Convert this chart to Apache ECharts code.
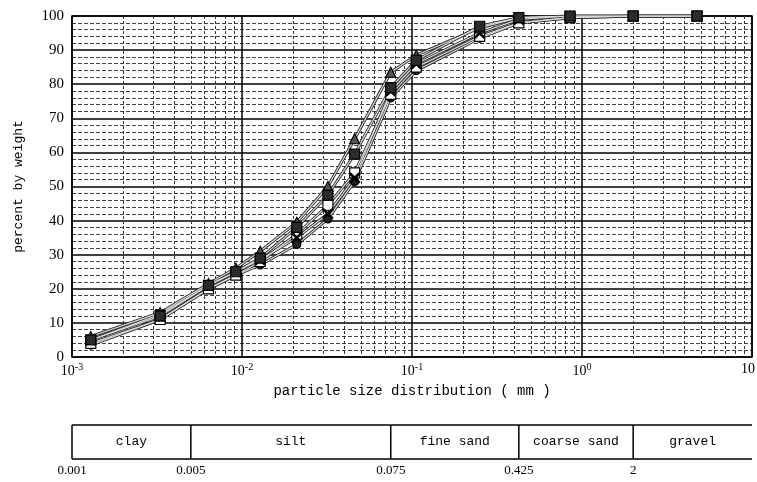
<!DOCTYPE html>
<html>
<head>
<meta charset="utf-8">
<script src="https://cdn.jsdelivr.net/npm/echarts@6/dist/echarts.min.js"></script>
<style>
  html, body { margin: 0; padding: 0; background: #fff; overflow: hidden; }
  #chart { width: 757px; height: 482px; }
</style>
</head>
<body>
<div id="chart"></div>
<script>
// Grain sizes (mm) at which each sample was measured
const sizes = [0.00129, 0.0033, 0.00635, 0.0092, 0.0128, 0.021, 0.032, 0.046, 0.075, 0.106, 0.25, 0.425, 0.85, 2, 4.75];

// Percent passing by weight for each sample
const sampleA = [5, 12, 21, 25, 29, 38, 47.5, 59.5, 79, 87, 97, 99.5, 100, 100, 100];
const sampleB = [6, 13, 21.5, 26, 31, 39.5, 50, 64, 83.5, 88.5, 96.5, 99.5, 100, 100, 100];
const sampleC = [4, 11, 20, 24, 28, 36, 44.5, 54, 77, 85, 94, 98, 99.5, 100, 100];
const sampleD = [3.5, 11, 20, 24, 27, 33, 40.5, 51.5, 76, 84, 93.5, 98, 99.5, 100, 100];
const sampleE = [5, 12.5, 21, 25, 28.5, 35, 42, 52.5, 78, 86, 95, 99, 100, 100, 100];

// Axis tick labels
const xTickValues = [0.001, 0.01, 0.1, 1, 10];
const xTickLabels = ['10{sup|-3}', '10{sup|-2}', '10{sup|-1}', '10{sup|0}', '{end|10}'];

// Soil classification bands
const zoneNames = ['clay', 'silt', 'fine sand', 'coarse sand', 'gravel'];
const zoneBounds = [0.001, 0.005, 0.075, 0.425, 2, 10];
const boundLabels = ['0.001', '0.005', '0.075', '0.425', '2'];

const monoFont = '"Liberation Mono", "DejaVu Sans Mono", monospace';
const serifFont = '"Liberation Serif", "DejaVu Serif", serif';

const crossPath = 'path://M0,1 L1,0 L5,4 L9,0 L10,1 L6,5 L10,9 L9,10 L5,6 L1,10 L0,9 L4,5 Z';

function pairs(vals) {
  return sizes.map((s, i) => [s, vals[i]]);
}

// Each curve is drawn as a dark casing with a light core, plus markers
function sampleSeries(vals, symbol, size, fill, border) {
  return [
    {
      type: 'line', xAxisIndex: 0, yAxisIndex: 0,
      data: pairs(vals), symbol: 'none',
      lineStyle: { color: '#333', width: 3 }, z: 3, silent: true
    },
    {
      type: 'line', xAxisIndex: 0, yAxisIndex: 0,
      data: pairs(vals), symbol: symbol, symbolSize: size, showAllSymbol: true,
      lineStyle: { color: '#d8d8d8', width: 1.2 },
      itemStyle: { color: fill, borderColor: border, borderWidth: 1.2 },
      z: 4
    }
  ];
}

const zoneData = zoneNames.map((n, i) => [zoneBounds[i], zoneBounds[i + 1], i]);
const boundData = boundLabels.map((t, i) => [zoneBounds[i], i]);

const chart = echarts.init(document.getElementById('chart'), null, { renderer: 'canvas' });

chart.setOption({
  animation: false,
  backgroundColor: '#fff',
  grid: [
    { left: 72, right: 5, top: 16, height: 341, show: true, borderColor: '#000', borderWidth: 1.5, containLabel: false, outerBoundsMode: 'none' },
    { left: 72, right: 5, top: 425, height: 34, show: false, containLabel: false, outerBoundsMode: 'none' }
  ],
  xAxis: [
    {
      type: 'log', logBase: 10, min: 0.001, max: 10, gridIndex: 0,
      name: 'particle size distribution ( mm )',
      nameLocation: 'middle', nameGap: 27,
      nameTextStyle: { fontFamily: monoFont, fontSize: 14, color: '#000' },
      axisLine: { show: false },
      axisTick: { show: false },
      axisLabel: {
        margin: 5,
        fontFamily: serifFont, fontSize: 14, color: '#000',
        formatter: function (v) {
          const idx = xTickValues.findIndex(t => Math.abs(Math.log10(t) - Math.log10(v)) < 1e-6);
          return idx >= 0 ? xTickLabels[idx] : '';
        },
        rich: {
          sup: { fontFamily: serifFont, fontSize: 10, verticalAlign: 'top', padding: [0, 0, 8, 0], color: '#000' },
          end: { fontFamily: serifFont, fontSize: 14, padding: [0, 8, 0, 0], color: '#000' }
        }
      },
      splitLine: { show: true, lineStyle: { color: '#000', width: 1.5 } },
      minorTick: { show: false, splitNumber: 9 },
      minorSplitLine: { show: true, lineStyle: { color: '#333', width: 1, type: [3, 2] } }
    },
    {
      type: 'log', logBase: 10, min: 0.001, max: 10, gridIndex: 1,
      show: false
    }
  ],
  yAxis: [
    {
      type: 'value', min: 0, max: 100, interval: 10, gridIndex: 0,
      name: 'percent by weight',
      nameLocation: 'middle', nameGap: 47, nameRotate: 90,
      nameTextStyle: { fontFamily: monoFont, fontSize: 13, color: '#000' },
      axisLine: { show: false },
      axisTick: { show: false },
      axisLabel: { margin: 8, fontFamily: serifFont, fontSize: 15, color: '#000' },
      splitLine: { show: true, lineStyle: { color: '#000', width: 1.5 } },
      minorTick: { show: false, splitNumber: 5 },
      minorSplitLine: { show: true, lineStyle: { color: '#444', width: 1, type: [4, 2] } }
    },
    { type: 'value', min: 0, max: 1, gridIndex: 1, show: false }
  ],
  series: [].concat(
    sampleSeries(sampleD, 'circle', 8, '#222', '#000'),
    sampleSeries(sampleC, 'rect', 10, '#fff', '#000'),
    sampleSeries(sampleE, crossPath, 10, '#000', '#000'),
    sampleSeries(sampleB, 'triangle', 10, '#555', '#000'),
    sampleSeries(sampleA, 'rect', 10, '#2b2b2b', '#000'),
    [
      {
        // classification table
        type: 'custom',
        xAxisIndex: 1, yAxisIndex: 1,
        data: zoneData,
        renderItem: function (params, api) {
          const p0 = api.coord([api.value(0), 1]);
          const p1 = api.coord([api.value(1), 0]);
          const i = api.value(2);
          return {
            type: 'group',
            children: [
              { type: 'line', shape: { x1: p0[0], y1: p0[1], x2: p1[0], y2: p0[1] }, style: { stroke: '#000', lineWidth: 1.5 } },
              { type: 'line', shape: { x1: p0[0], y1: p1[1], x2: p1[0], y2: p1[1] }, style: { stroke: '#000', lineWidth: 1.5 } },
              { type: 'line', shape: { x1: p0[0], y1: p0[1], x2: p0[0], y2: p1[1] }, style: { stroke: '#000', lineWidth: 1.5 } },
              {
                type: 'text',
                style: {
                  x: (p0[0] + p1[0]) / 2, y: (p0[1] + p1[1]) / 2,
                  text: zoneNames[i], align: 'center', verticalAlign: 'middle',
                  font: '13px ' + monoFont, fill: '#000'
                }
              }
            ]
          };
        },
        silent: true
      },
      {
        // boundary grain sizes under the table
        type: 'custom',
        xAxisIndex: 1, yAxisIndex: 1,
        data: boundData,
        renderItem: function (params, api) {
          const p = api.coord([api.value(0), 0]);
          return {
            type: 'text',
            style: {
              x: p[0], y: p[1] + 5,
              text: boundLabels[api.value(1)], align: 'center', verticalAlign: 'top',
              font: '13px ' + serifFont, fill: '#000'
            }
          };
        },
        silent: true
      }
    ]
  )
});
</script>
</body>
</html>
